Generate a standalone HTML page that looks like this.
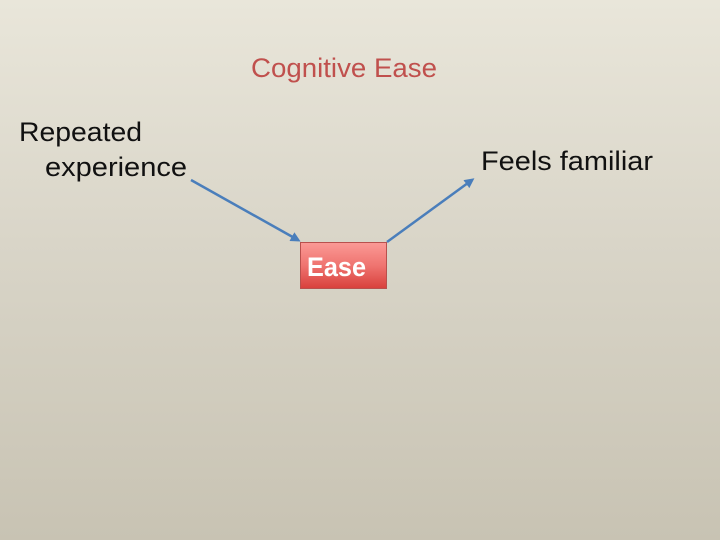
<!DOCTYPE html>
<html><head><style>
html,body{margin:0;padding:0;}
body{width:720px;height:540px;overflow:hidden;background:linear-gradient(180deg,#e9e6da 0%,#d9d5c8 45%,#c8c3b3 100%);}
</style></head><body>
<svg width="720" height="540" xmlns="http://www.w3.org/2000/svg" style="position:absolute;left:0;top:0">
<defs>
<linearGradient id="g" x1="0" y1="0" x2="0" y2="1">
<stop offset="0" stop-color="#fb9a96"/><stop offset="0.5" stop-color="#ef7470"/><stop offset="1" stop-color="#d8403c"/>
</linearGradient>
<marker id="a" markerWidth="10" markerHeight="10" refX="7" refY="5" orient="auto" markerUnits="userSpaceOnUse">
<path d="M0,0 L10,5 L0,10 Z" fill="#4a7ebb"/></marker>
</defs>
<g font-family="Liberation Sans, sans-serif">
<text x="251" y="77" font-size="27" fill="#c0504d" textLength="186" lengthAdjust="spacingAndGlyphs">Cognitive Ease</text>
<text x="19" y="141" font-size="27" fill="#111" textLength="123" lengthAdjust="spacingAndGlyphs">Repeated</text>
<text x="45" y="176" font-size="27" fill="#111" textLength="142" lengthAdjust="spacingAndGlyphs">experience</text>
<text x="481" y="170" font-size="27" fill="#111" textLength="172" lengthAdjust="spacingAndGlyphs">Feels familiar</text>
</g>
<line x1="191" y1="180" x2="298" y2="240" stroke="#4a7ebb" stroke-width="2.5" marker-end="url(#a)"/>
<line x1="387" y1="242" x2="472" y2="180" stroke="#4a7ebb" stroke-width="2.5" marker-end="url(#a)"/>
<rect x="300.5" y="242.5" width="86" height="46" fill="url(#g)" stroke="#b9504d" stroke-width="1"/>
<text x="307" y="276" font-family="Liberation Sans, sans-serif" font-weight="bold" font-size="27" fill="#fff" textLength="59" lengthAdjust="spacingAndGlyphs">Ease</text>
</svg>
</body></html>
